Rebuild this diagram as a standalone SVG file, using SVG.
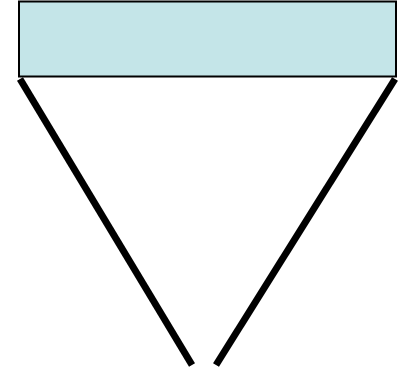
<svg xmlns="http://www.w3.org/2000/svg" width="400" height="371" viewBox="0 0 400 371">
<style>
.box{fill:#C4E5E8;stroke:#000;stroke-width:2}
.leg{stroke:#000;stroke-width:7;fill:none}
</style>
<g id="bar"><rect class="box" x="19" y="1.5" width="377" height="75"/></g>
<g id="connectors">
<line class="leg" x1="20" y1="79" x2="192" y2="365"/>
<line class="leg" x1="395" y1="79" x2="216" y2="365"/>
</g>
</svg>
